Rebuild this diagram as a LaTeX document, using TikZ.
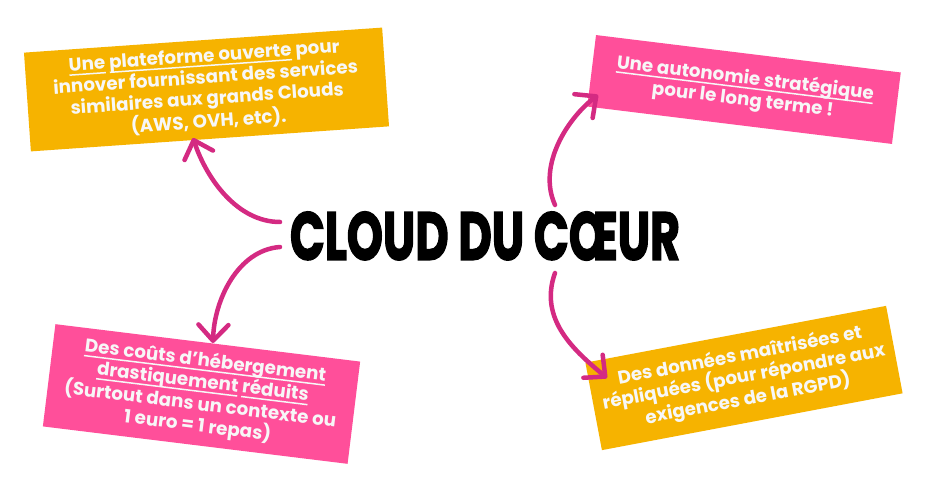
\documentclass[tikz,border=0pt]{standalone}
\usepackage{fontspec}
\usepackage{graphicx}
\setmainfont{Poppins}
\newfontfamily\titlefont{Poppins}[FakeBold=2.5]
\newfontfamily\cardfont{Poppins}
\usetikzlibrary{arrows.meta}
\definecolor{pinkbox}{HTML}{FF4F9A}
\definecolor{yellowbox}{HTML}{F6B300}
\definecolor{arrowc}{HTML}{D42A82}
\definecolor{txt}{HTML}{F7F7F7}
\newcommand{\myul}[1]{\setbox0\hbox{#1}\rlap{\color{txt}\rule[-4.5pt]{\wd0}{1.5pt}}\box0\relax}
\tikzset{
  card/.style={inner sep=0pt, align=center, text=txt, font=\cardfont\bfseries\fontsize{18.3}{21.5}\selectfont},
  pinkcard/.style={card, fill=pinkbox},
  yellowcard/.style={card, fill=yellowbox},
  link/.style={draw=arrowc, line width=4.5pt, line cap=round,
    -{Straight Barb[round, length=16pt, width=30pt]}}
}
\begin{document}
\begin{tikzpicture}[x=1pt, y=-1pt]
\useasboundingbox[fill=white] (0,0) rectangle (929,481);
\node[yellowcard, minimum width=359pt, minimum height=99pt, rotate=4] (plat) at (206.5,89.5)
  {\myul{Une} \myul{plateforme ouverte} pour\\innover fournissant des services\\similaires aux grands Clouds\\(AWS, OVH, etc).};
\node[pinkcard, minimum width=307pt, minimum height=72pt, rotate=-7] (auto) at (744,89.5)
  {\myul{Une autonomie stratégique}\\pour le long terme !};
\node[pinkcard, minimum width=307pt, minimum height=103pt, rotate=-7] (couts) at (201.5,394)
  {\myul{Des coûts d’hébergement}\\\myul{drastiquement} \myul{réduits}\\(Surtout dans un contexte ou\\1 euro = 1 repas)};
\node[yellowcard, minimum width=306pt, minimum height=89pt, rotate=10.7] (donnees) at (744,378)
  {Des données maîtrisées et\\répliquées (pour répondre aux\\exigences de la RGPD)};
\node[inner sep=0pt] (title) at (485,236) {\resizebox{390pt}{48pt}{\titlefont\bfseries CLOUD DU CŒUR}};
\coordinate (a1s) at (280,222);
\coordinate (a1e) at (193,138);
\coordinate (a2s) at (280,247);
\coordinate (a2e) at (213,343);
\coordinate (a3s) at (555,205);
\coordinate (a3e) at (598,95);
\coordinate (a4s) at (555,273);
\coordinate (a4e) at (607,378);
\draw[link] (a1s) .. controls (238,222) and (207,180) .. (a1e);
\draw[link] (a2s) .. controls (238,250) and (214,300) .. (a2e);
\draw[link] (a3s) .. controls (537,165) and (568,118) .. (a3e);
\draw[link] (a4s) .. controls (538,320) and (576,352) .. (a4e);
\end{tikzpicture}
\end{document}
